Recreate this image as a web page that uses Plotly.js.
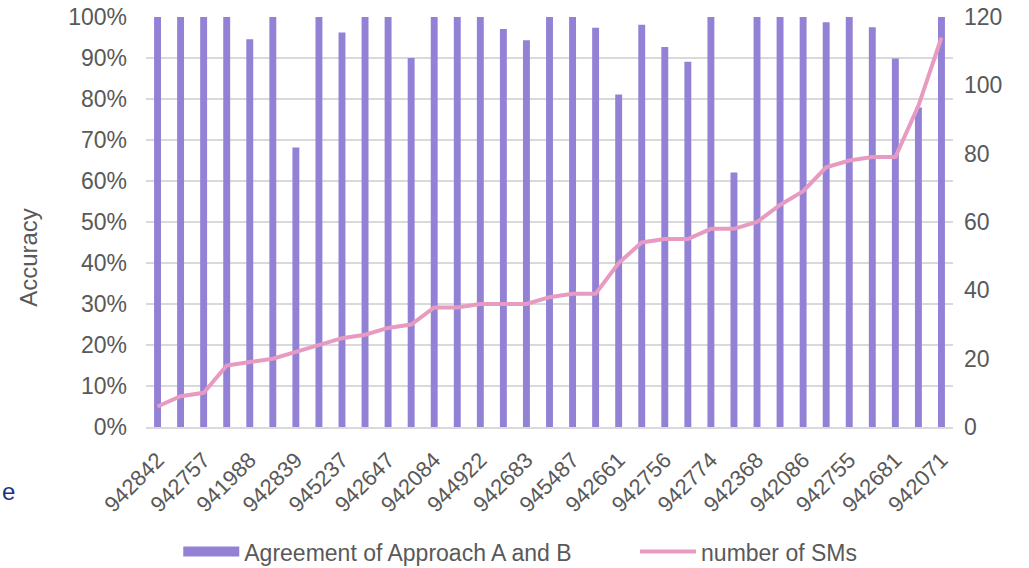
<!DOCTYPE html>
<html>
<head>
<meta charset="utf-8">
<script src="https://cdn.plot.ly/plotly-3.0.1.min.js"></script>
<style>
  html, body { margin: 0; padding: 0; background: #fff; }
  #chart { width: 1029px; height: 568px; }
</style>
</head>
<body>
<div id="chart"></div>
<script>
// 35 samples, only every other one is labelled on the axis
var tick_labels = ['942842', '942757', '941988', '942839', '945237', '942647',
    '942084', '944922', '942683', '945487', '942661', '942756', '942774',
    '942368', '942086', '942755', '942681', '942071'];

var agreement = [1.00, 1.00, 1.00, 1.00, 0.946, 1.00, 0.682, 1.00, 0.962, 1.00,
    1.00, 0.90, 1.00, 1.00, 1.00, 0.971, 0.943, 1.00, 1.00, 0.974,
    0.811, 0.981, 0.927, 0.891, 1.00, 0.621, 1.00, 1.00, 1.00, 0.987,
    1.00, 0.975, 0.899, 0.779, 1.00];

var num_sms = [6, 9, 10, 18, 19, 20, 22, 24, 26, 27,
    29, 30, 35, 35, 36, 36, 36, 38, 39, 39,
    48, 54, 55, 55, 58, 58, 60, 65, 69, 76,
    78, 79, 79, 94, 114];

var idx = agreement.map(function (v, i) { return i; });
var tick_pos = tick_labels.map(function (t, i) { return i * 2; });

var barColor = '#9381D6';
var lineColor = '#E89BC0';
var txt = '#595959';

var bars = {
    x: idx,
    y: agreement,
    type: 'bar',
    name: 'Agreement of Approach A and B',
    marker: { color: barColor },
    showlegend: false
};

// legend entry only: wide block like the original legend key
var barKey = {
    x: [null],
    y: [null],
    type: 'scatter',
    mode: 'lines',
    name: 'Agreement of Approach A and B',
    line: { color: barColor, width: 12 },
    legend: 'legend'
};

var line = {
    x: idx,
    y: num_sms,
    yaxis: 'y2',
    type: 'scatter',
    mode: 'lines',
    name: 'number of SMs',
    line: { color: lineColor, width: 4 },
    legend: 'legend2'
};

var legendBase = {
    orientation: 'h',
    y: -0.304, yanchor: 'middle',
    xanchor: 'left',
    font: { size: 23, color: txt },
    itemwidth: 56
};

var layout = {
    width: 1029,
    height: 568,
    margin: { l: 146, r: 76, t: 17, b: 141, autoexpand: false },
    paper_bgcolor: '#fff',
    plot_bgcolor: '#fff',
    font: { family: 'Liberation Sans, Arial, sans-serif', size: 23, color: txt },
    bargap: 0.7,
    showlegend: true,
    legend: Object.assign({}, legendBase, { x: 0.040 }),
    legend2: Object.assign({}, legendBase, { x: 0.606 }),
    xaxis: {
        range: [-0.5, 34.5],
        tickmode: 'array',
        tickvals: tick_pos,
        ticktext: tick_labels,
        tickangle: -45,
        tickfont: { size: 22, color: txt },
        ticklabelstandoff: 10,
        showgrid: false,
        zeroline: false,
        showline: true,
        linecolor: '#D9D9D9',
        linewidth: 1.5,
        ticks: ''
    },
    yaxis: {
        range: [0, 1],
        dtick: 0.1,
        tickformat: '.0%',
        gridcolor: '#D9D9D9',
        gridwidth: 1.5,
        zeroline: false,
        ticks: '',
        ticklabelstandoff: 18,
        tickfont: { size: 23, color: txt }
    },
    yaxis2: {
        range: [0, 120],
        dtick: 20,
        overlaying: 'y',
        side: 'right',
        showgrid: false,
        zeroline: false,
        ticks: '',
        ticklabelstandoff: 10,
        tickfont: { size: 23, color: txt }
    },
    annotations: [{
        text: 'Accuracy',
        xref: 'paper', yref: 'paper',
        x: -0.145, y: 0.415,
        xanchor: 'center', yanchor: 'middle',
        textangle: -90,
        showarrow: false,
        font: { size: 24, color: txt }
    }, {
        text: 'e',
        xref: 'paper', yref: 'paper',
        x: -0.171, y: -0.158,
        xanchor: 'center', yanchor: 'middle',
        showarrow: false,
        font: { size: 24, color: '#1F2F8F' }
    }]
};

Plotly.newPlot('chart', [bars, barKey, line], layout, { displayModeBar: false, staticPlot: true });
</script>
</body>
</html>
